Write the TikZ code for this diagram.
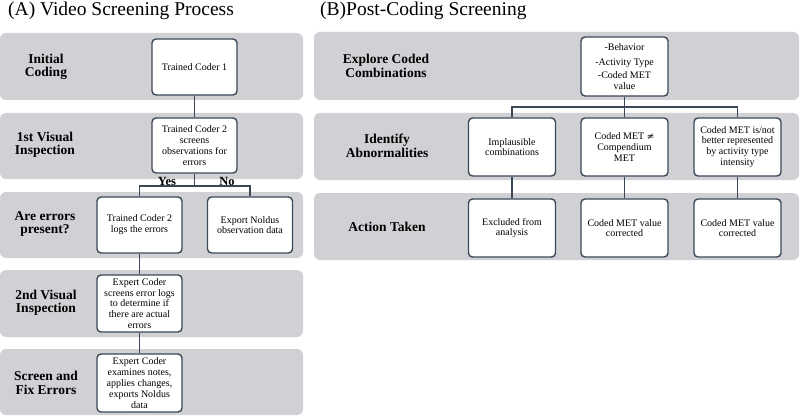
\documentclass[tikz,border=0pt]{standalone}
\usepackage{fontspec}
\setmainfont{Liberation Serif}
\definecolor{bandgray}{RGB}{209,209,213}
\definecolor{boxedge}{RGB}{58,72,88}
\begin{document}
\begin{tikzpicture}[x=1pt,y=-1pt,
  band/.style={fill=bandgray, rounded corners=6pt},
  box/.style={draw=boxedge, line width=1.4pt, fill=white, rounded corners=4pt,
    minimum width=85pt, align=center, inner sep=1pt,
    font=\fontsize{10}{10.8}\selectfont},
  lab/.style={font=\bfseries\fontsize{13.5}{13.5}\selectfont, align=center},
  yn/.style={font=\bfseries\fontsize{12.5}{12.5}\selectfont, inner sep=0pt},
  title/.style={font=\fontsize{19.5}{20}\selectfont, anchor=base west, inner sep=0pt},
  conn/.style={draw=boxedge, line width=1.4pt}]
\useasboundingbox (0,0) rectangle (800,417);
% bands
\fill[band] (0,33) rectangle (303,100);
\fill[band] (0,113) rectangle (303,179);
\fill[band] (0,192) rectangle (303,258);
\fill[band] (0,270) rectangle (303,337);
\fill[band] (0,349) rectangle (303,415);
\fill[band] (314,32) rectangle (799,100);
\fill[band] (314,113) rectangle (799,180);
\fill[band] (314,193) rectangle (799,260);
% titles
\node[title] (ta) at (8,16) {(A) Video Screening Process};
\node[title] (tb) at (320,16) {(B)Post-Coding Screening};
% row labels
\node[lab] (la1) at (46,67) {Initial\\Coding};
\node[lab] (la2) at (45,145) {1st Visual\\Inspection};
\node[lab] (la3) at (45,224) {Are errors\\present?};
\node[lab] (la4) at (46,303) {2nd Visual\\Inspection};
\node[lab] (la5) at (46,383) {Screen and\\Fix Errors};
\node[lab] (lb1) at (386,66) {Explore Coded\\Combinations};
\node[lab] (lb2) at (387,146) {Identify\\Abnormalities};
\node[lab] (lb3) at (387,227) {Action Taken};
% left boxes
\node[box, minimum height=56pt] (tc1) at (194.5,67) {Trained Coder 1};
\node[box, minimum height=55pt] (tc2) at (194.5,145.5) {Trained Coder 2\\screens\\observations for\\errors};
\node[box, minimum height=56pt] (logs) at (139.5,225) {Trained Coder 2\\logs the errors};
\node[box, minimum height=56pt] (exp) at (250,225) {Export Noldus\\observation data};
\node[box, minimum height=57pt] (ex1) at (139.5,303.5) {Expert Coder\\screens error logs\\to determine if\\there are actual\\errors};
\node[box, minimum height=58pt] (ex2) at (139.5,383) {Expert Coder\\examines notes,\\applies changes,\\exports Noldus\\data};
% left connectors
\coordinate (ja) at (194.5,186);
\draw[conn] (tc1) -- (tc2);
\draw[conn] (tc2.south) -- (ja);
\draw[conn] (logs.north) -- (logs.north |- ja) -- (exp.north |- ja) -- (exp.north);
\draw[conn] (logs) -- (ex1);
\draw[conn] (ex1) -- (ex2);
\node[yn] (yes) at (167,181) {Yes};
\node[yn] (no) at (227,181) {No};
% right boxes
\tikzset{rbox/.style={box, minimum width=87pt, minimum height=58pt}}
\node[rbox, minimum height=59pt] (beh) at (624.5,66.5) {-Behavior\\[4pt]-Activity Type\\[3pt]-Coded MET\\value};
\node[rbox] (imp) at (512,147) {Implausible\\combinations};
\node[rbox] (neq) at (624.5,147) {Coded MET {\fontspec{DejaVu Serif}\fontsize{9}{10}\selectfont ≠}\\Compendium\\MET};
\node[rbox] (isnot) at (737.5,147) {Coded MET is/not\\better represented\\by activity type\\intensity};
\node[rbox] (excl) at (512,228) {Excluded from\\analysis};
\node[rbox] (cor1) at (624.5,228) {Coded MET value\\corrected};
\node[rbox] (cor2) at (737.5,228) {Coded MET value\\corrected};
% right connectors
\coordinate (jb) at (624.5,107);
\draw[conn] (beh.south) -- (jb);
\draw[conn] (imp.north) -- (imp.north |- jb) -- (isnot.north |- jb) -- (isnot.north);
\draw[conn] (neq.north) -- (jb);
\draw[conn] (imp) -- (excl);
\draw[conn] (neq) -- (cor1);
\draw[conn] (isnot) -- (cor2);
\end{tikzpicture}
\end{document}
